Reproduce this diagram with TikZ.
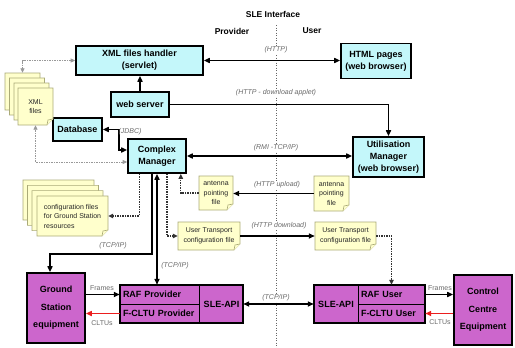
\documentclass[tikz,border=0pt]{standalone}
\usepackage{fontspec}
\setmainfont{Liberation Sans}
\usetikzlibrary{arrows.meta,calc}

\definecolor{cyanfill}{RGB}{196,247,250}
\definecolor{magfill}{RGB}{204,102,204}
\definecolor{notefill}{RGB}{255,255,204}
\definecolor{noteedge}{RGB}{170,170,120}
\definecolor{lblgrey}{RGB}{105,105,105}
\definecolor{cltured}{RGB}{235,30,30}

% sticky-note page with a folded lower right corner
% #1 extra text options, #2 name, #3/#4 top-left corner, #5 width, #6 height, #7 text
\newcommand\notepage[7][]{%
  \filldraw[notepaper] (#3,#4) -- ++(#5,0) -- ++(0,#6-6) -- ++(-6,6) -- ++(6-#5,0) -- cycle;
  \draw[notepaper] ({#3+#5-6},{#4+#6}) -- ++(1,-5) -- ++(5,-1);
  \node[notetext,minimum width=#5,minimum height=#6,#1] (#2) at ({#3+#5/2},{#4+#6/2}) {#7};
}

\begin{document}
\begin{tikzpicture}[x=1pt,y=-1pt,
  >={Triangle[length=6pt,width=5pt]},
  boxline/.style={line width=1.6pt},
  cyanbox/.style={draw,line width=1.6pt,fill=cyanfill,align=center,inner sep=1pt,
    font=\fontsize{9}{12}\selectfont\bfseries},
  magbox/.style={draw,line width=1.6pt,fill=magfill,align=center,inner sep=1pt,
    font=\fontsize{9}{17.5}\selectfont\bfseries},
  magcell/.style={fill=magfill,inner ysep=0pt,inner xsep=3pt,
    font=\fontsize{9}{11}\selectfont\bfseries},
  link/.style={line width=1.6pt},
  dotlink/.style={line width=1.1pt,dash pattern=on 1.5pt off 1pt,draw=black!80,
    >={Triangle[length=5pt,width=4.5pt]}},
  greylink/.style={line width=0.8pt,dash pattern=on 1.5pt off 1pt,draw=black!40,
    >={Triangle[length=4.5pt,width=4pt]}},
  redlink/.style={line width=1.6pt,draw=cltured,>={Triangle[length=6pt,width=5pt]}},
  ifline/.style={line width=0.9pt,dash pattern=on 1pt off 1.5pt,draw=black!60},
  lbl/.style={font=\fontsize{7}{8}\selectfont\itshape,text=lblgrey,inner sep=1pt},
  lblw/.style={lbl,fill=white},
  tag/.style={font=\fontsize{7}{8}\selectfont,text=lblgrey,inner sep=1pt},
  notepaper/.style={draw=noteedge,fill=notefill,line width=0.6pt},
  notetext/.style={font=\fontsize{7}{9.5}\selectfont,align=center,inner sep=0pt,text=black!85},
  head/.style={font=\fontsize{8.5}{10}\selectfont\bfseries,inner sep=1pt}
]
\useasboundingbox (0,0) rectangle (515,348);

% interface divider and headings
\coordinate (iftop) at (276,25);
\coordinate (ifbot) at (276,348);
\draw[ifline] (iftop) -- (ifbot);
\node[head] (title) at (273,14) {SLE Interface};
\node[head] (prov) at (232,31) {Provider};
\node[head] (user) at (312,31) {User};

% web / management components
\node[cyanbox,minimum width=127,minimum height=29] (xmlh) at (139.5,60.5) {XML files handler\\(servlet)};
\node[cyanbox,minimum width=70,minimum height=35] (html) at (376,61) {HTML pages\\(web browser)};
\node[cyanbox,minimum width=58,minimum height=25] (websrv) at (140,104.5) {web server};
\node[cyanbox,minimum width=49,minimum height=23] (db) at (77.5,129.5) {Database};
\node[cyanbox,minimum width=58,minimum height=34] (cm) at (157,156) {Complex\\Manager};
\node[cyanbox,minimum width=71,minimum height=40] (um) at (388.5,157) {Utilisation\\Manager\\(web browser)};

% file stacks and single files
\notepage{xmlpa}{5}{73}{35}{37}{}
\notepage{xmlpb}{9.5}{78}{35}{37}{}
\notepage{xmlpc}{14}{83}{35}{37}{}
\notepage{xmlf}{18}{88}{35}{37}{XML\\files}

\notepage{cfga}{23}{180}{71}{40}{}
\notepage{cfgb}{27.5}{185.3}{71}{40}{}
\notepage{cfgc}{32}{190.6}{71}{40}{}
\notepage[align=left]{cfgf}{37}{196}{71}{40}{configuration files\\for Ground Station\\resources}

\notepage{antl}{199}{176}{34}{34}{antenna\\pointing\\file}
\notepage{antr}{314}{176}{35}{35}{antenna\\pointing\\file}
\notepage{utl}{178}{222}{62}{28}{User Transport\\configuration file}
\notepage{utr}{315}{222}{61}{28}{User Transport\\configuration file}

% ground segment equipment
\node[magbox,minimum width=58,minimum height=70] (gs) at (56,308) {Ground\\Station\\equipment};
\node[magbox,minimum width=58,minimum height=70] (cce) at (483,310) {Control\\Centre\\Equipment};

% provider side service block
\node[magcell,text width=74,align=left,minimum height=19] (rafprov) at (160,294.5) {RAF Provider};
\node[magcell,text width=74,align=left,minimum height=19] (fcltuprov) at (160,313.5) {F-CLTU Provider};
\node[magcell,minimum width=43,minimum height=38,inner xsep=0pt] (sleprov) at (221.5,304) {SLE-API};
\draw[line width=0.8pt] (rafprov.south west) -- (sleprov.west |- rafprov.south);
\draw[line width=0.8pt] (sleprov.north west) -- (sleprov.south west);
\draw[boxline] (rafprov.north west) rectangle (sleprov.south east);

% user side service block
\node[magcell,minimum width=44,minimum height=38,inner xsep=0pt] (sleuser) at (336,304) {SLE-API};
\node[magcell,text width=61,align=left,minimum height=19] (rafuser) at (391.5,294.5) {RAF User};
\node[magcell,text width=61,align=left,minimum height=19] (fcltuuser) at (391.5,313.5) {F-CLTU User};
\draw[line width=0.8pt] (rafuser.south west) -- (rafuser.south east);
\draw[line width=0.8pt] (sleuser.north east) -- (sleuser.south east);
\draw[boxline] (sleuser.north west) rectangle (fcltuuser.south east);

% connectors
\draw[link,<->] (xmlh.east) -- (html.west |- xmlh.east);
\draw[link,->] (websrv.north) -- (websrv.north |- xmlh.south);
\draw[link,->] (websrv.east) -| (um.north);
\draw[link,<->] (db.east) -- ++(16,0) |- ($(cm.west)+(0,-6)$);
\draw[link,<->] (cm.east) -- (um.west |- cm.east);
\draw[greylink,<->] (xmlh.west) -| (xmlpa.north);
\draw[greylink,<->] ($(cm.west)+(0,6)$) -| (xmlf.south);
\draw[link,->] (antr.west) -- (antl.east |- antr.west);
\draw[dotlink,->] (antl.west) -| ($(cm.south east)+(-6,0)$);
\draw[dotlink,->] ($(cm.south west)+(12,0)$) |- (cfgf.east);
\draw[link,->] ($(cm.south)+(-5,0)$) -- ++(0,80) -| ($(gs.north)+(-6,0)$);
\draw[link,<->] (cm.south) -- (cm.south |- rafprov.north);
\draw[dotlink,->] ($(cm.south)+(10,0)$) |- (utl.west);
\draw[link,->] (utl.east) -- (utr.west);
\draw[dotlink,->] (utr.east) -| (rafuser.north);
\draw[link,->] (gs.east |- rafprov.west) -- (rafprov.west);
\draw[redlink,->] (fcltuprov.west) -- (gs.east |- fcltuprov.west);
\draw[link,<->] (sleprov.east) -- (sleuser.west);
\draw[link,->] (rafuser.east) -- (cce.west |- rafuser.east);
\draw[redlink,->] (cce.west |- fcltuuser.east) -- (fcltuuser.east);

% connector labels
\node[lblw] (lhttp) at (276,50) {(HTTP)};
\node[lblw] (lapplet) at (276,93) {(HTTP - download applet)};
\node[lbl] (ljdbc) at (130,132) {(JDBC)};
\node[lblw] (lrmi) at (276,148) {(RMI -TCP/IP)};
\node[lblw] (lupload) at (277,185) {(HTTP upload)};
\node[lblw] (ldownload) at (279,226) {(HTTP download)};
\node[lbl] (ltcpa) at (113,246) {(TCP/IP)};
\node[lbl] (ltcpb) at (175,266) {(TCP/IP)};
\node[lblw] (ltcpc) at (276,298) {(TCP/IP)};
\node[tag] (lframesa) at (102,288) {Frames};
\node[tag] (lcltua) at (102,323) {CLTUs};
\node[tag] (lframesb) at (440,288) {Frames};
\node[tag] (lcltub) at (440,322) {CLTUs};
\end{tikzpicture}
\end{document}
